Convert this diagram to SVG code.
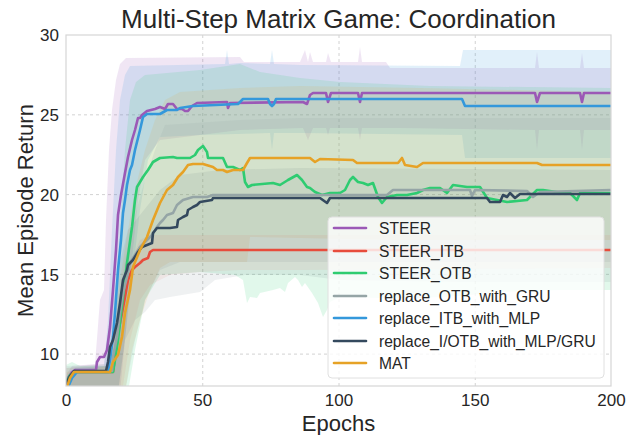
<svg xmlns="http://www.w3.org/2000/svg" width="628" height="435" viewBox="0 0 628 435">
  <style>
    text { font-family: "Liberation Sans", Arial, sans-serif; fill: #262626; }
    .title { font-size: 26px; text-anchor: middle; }
    .axlabel { font-size: 22px; text-anchor: middle; }
    .tick { font-size: 17px; }
    .xt { text-anchor: middle; }
    .yt { text-anchor: end; }
    .grid { stroke: #d2d2d2; stroke-width: 1; stroke-dasharray: 3 3; fill: none; }
    .band { stroke: none; }
    .line { fill: none; stroke-width: 2.6; stroke-linejoin: round; stroke-linecap: round; }
    .leg { font-size: 15.6px; fill: #262626; }
    .steer { stroke: #9b59b6; }
    .itb { stroke: #e74c3c; }
    .otb { stroke: #2ecc71; }
    .gru { stroke: #95a5a6; }
    .mlp { stroke: #3498db; }
    .iotb { stroke: #34495e; }
    .mat { stroke: #e6a226; }
  </style>
  <defs>
    <clipPath id="plotClip">
      <rect x="66" y="35" width="545" height="351"/>
    </clipPath>
  </defs>

  <rect x="0" y="0" width="628" height="435" fill="#ffffff"/>

  <!-- grid -->
  <g id="grid">
    <line class="grid" x1="202.75" y1="35" x2="202.75" y2="386"/>
    <line class="grid" x1="339" y1="35" x2="339" y2="386"/>
    <line class="grid" x1="475.25" y1="35" x2="475.25" y2="386"/>
    <line class="grid" x1="66" y1="354.1" x2="611" y2="354.1"/>
    <line class="grid" x1="66" y1="274.35" x2="611" y2="274.35"/>
    <line class="grid" x1="66" y1="194.6" x2="611" y2="194.6"/>
    <line class="grid" x1="66" y1="114.85" x2="611" y2="114.85"/>
  </g>

  <!-- shaded spread bands -->
  <g id="bands" clip-path="url(#plotClip)">
    <polygon class="band" fill="#9b59b6" fill-opacity="0.15" points="66,375 72,366 95,364 100,300 104,290 106,220 109,150 112,110 116,80 120,64 126,58 240,57 244,62 300,62 305,50 308,62 310,52 313,62 326,62 328,53 331,62 358,62 360,47 362,62 386,62 390,68 535,68 537,52 539,68 580,68 582,53 584,68 611,68 611,130 584,130 582,150 580,130 539,130 537,150 535,130 400,128 362,128 360,140 358,128 330,128 328,135 326,128 313,128 308,140 303,128 240,130 200,135 160,140 145,160 138,200 132,260 126,330 120,392 66,392"/>
    <polygon class="band" fill="#3498db" fill-opacity="0.15" points="66,378 75,368 104,366 108,320 112,230 116,150 120,100 125,75 130,66 225,64 227,50 229,64 240,63 270,64 272,50 274,64 300,65 460,66 463,50 611,50 611,158 465,158 462,135 300,133 274,133 272,150 270,133 200,135 160,137 148,160 140,210 133,270 126,330 118,392 66,392"/>
    <polygon class="band" fill="#2ecc71" fill-opacity="0.14" points="66,365 72,362 80,366 112,366 116,320 120,230 125,150 130,100 136,82 145,75 200,70 240,64 260,72 300,78 340,82 430,86 611,88 611,290 560,290 500,292 460,296 420,298 380,298 340,297 330,302 327,310 323,317 318,303 312,293 305,283 302,287 298,280 295,277 288,283 285,292 280,288 273,290 260,293 257,298 250,297 247,303 243,280 235,275 200,272 160,275 145,300 135,350 128,392 66,392"/>
    <polygon class="band" fill="#e6a226" fill-opacity="0.12" points="66,372 110,366 114,330 120,280 128,230 135,190 145,150 155,120 165,100 180,92 240,88 300,86 420,88 611,92 611,240 400,240 300,238 250,237 247,262 200,262 170,262 160,268 150,290 140,320 132,350 125,392 66,392"/>
    <polygon class="band" fill="#95a5a6" fill-opacity="0.16" points="66,366 112,364 118,310 125,260 135,215 145,180 155,150 165,125 240,120 300,118 611,118 611,262 400,262 300,262 240,262 180,262 160,270 145,300 135,340 125,392 66,392"/>
    <polygon class="band" fill="#34495e" fill-opacity="0.08" points="66,368 104,364 110,320 118,270 128,230 140,215 160,190 180,175 220,170 300,168 611,170 611,282 460,282 340,280 300,275 245,275 215,280 200,292 170,297 155,300 145,312 135,320 125,340 118,392 66,392"/>
    <polygon class="band" fill="#e74c3c" fill-opacity="0.07" points="66,368 110,366 115,330 122,290 130,262 140,240 150,235 611,235 611,268 300,270 240,270 200,272 170,275 150,285 140,300 130,340 122,392 66,392"/>
  </g>

  <!-- mean curves -->
  <g id="curves" clip-path="url(#plotClip)">
    <g id="series-steer">
      <polyline class="line steer" points="66,386 68,378 72,372 75,370 96,370 97,362 100,357 104,357 107,350 110,327 113,290 116,250 118,215 121,195 125,173 128,157 132,140 135,130 138,118 140,118 142,115 147,111 155,109 160,107 165,109 168,104 173,104 177,109 182,109 185,111 188,111 192,106 197,103 227,102 228,108 230,103 303,102 307,104 310,95 313,93 326,93 328,102 331,93 358,93 360,102 362,93 535,93 537,102 540,93 580,93 582,102 584,93 611,93"/>
    </g>
    <g id="series-steer-itb">
      <polyline class="line itb" points="66,388 72,376 76,372 113,372 115,357 118,333 122,313 125,297 128,280 132,270 135,267 140,263 143,260 148,258 150,252 153,250 611,250"/>
    </g>
    <g id="series-steer-otb">
      <polyline class="line otb" points="66,383 70,375 75,372 113,372 115,360 118,340 123,297 127,263 132,227 135,200 137,187 140,182 143,177 148,170 153,162 160,158 173,157 177,158 190,158 195,155 198,150 203,146 207,152 208,158 223,158 227,167 233,167 240,170 243,168 245,182 248,187 252,185 273,183 280,185 288,180 297,175 302,180 307,187 310,188 315,192 322,195 330,193 340,193 345,190 350,180 353,177 358,182 363,183 368,185 373,183 378,197 382,203 387,197 397,195 407,195 417,193 423,190 430,188 440,188 447,193 453,185 467,187 480,187 487,198 507,202 527,200 537,190 543,190 563,193 570,193 577,200 580,193 611,193"/>
    </g>
    <g id="series-gru">
      <polyline class="line gru" points="66,386 72,374 76,371 112,371 113,357 117,337 120,313 123,293 127,277 130,263 135,255 140,247 145,242 152,235 157,227 160,223 163,220 167,215 173,213 177,205 183,200 193,197 207,197 213,195 387,195 393,190 470,190 472,196 475,190 527,191 533,197 540,192 611,190"/>
    </g>
    <g id="series-mlp">
      <polyline class="line mlp" points="66,392 72,378 77,372 108,372 110,360 113,337 115,313 118,270 121,240 123,213 125,200 127,185 130,170 132,165 135,150 140,130 143,117 147,114 160,114 167,110 177,110 180,108 193,106 238,104 243,99 268,99 270,104 272,106 274,104 276,99 462,99 465,106 611,106"/>
    </g>
    <g id="series-iotb">
      <polyline class="line iotb" points="66,384 70,376 74,371 106,371 108,362 110,347 113,340 117,323 120,303 123,280 127,270 128,265 133,260 138,252 142,247 147,245 152,243 153,233 157,228 170,228 177,227 178,220 183,217 187,215 188,210 193,207 197,205 200,202 212,200 213,198 320,198 327,203 330,198 487,198 490,202 500,202 503,195 507,197 510,193 515,198 520,194 611,194"/>
    </g>
    <g id="series-mat">
      <polyline class="line mat" points="66,390 70,378 74,372 110,372 113,362 118,355 122,337 125,313 130,290 133,267 140,250 147,237 153,220 160,203 167,190 173,185 178,177 183,172 188,165 193,164 203,164 213,167 217,170 223,170 227,172 233,170 243,170 247,163 250,158 310,158 315,162 320,159 353,160 357,163 398,163 402,158 405,165 417,167 423,163 537,163 542,165 611,165"/>
    </g>
  </g>

  <!-- axes frame -->
  <rect x="66" y="35" width="545" height="351" fill="none" stroke="#d6d6d6" stroke-width="1.2"/>

  <!-- tick labels -->
  <g id="xticks">
    <text class="tick xt" x="66.5" y="406">0</text>
    <text class="tick xt" x="202.75" y="406">50</text>
    <text class="tick xt" x="339" y="406">100</text>
    <text class="tick xt" x="475.25" y="406">150</text>
    <text class="tick xt" x="611.5" y="406">200</text>
  </g>
  <g id="yticks">
    <text class="tick yt" x="59" y="360.2">10</text>
    <text class="tick yt" x="59" y="280.5">15</text>
    <text class="tick yt" x="59" y="200.7">20</text>
    <text class="tick yt" x="59" y="121">25</text>
    <text class="tick yt" x="59" y="41.2">30</text>
  </g>

  <!-- titles -->
  <text class="title" x="338.5" y="28">Multi-Step Matrix Game: Coordination</text>
  <text class="axlabel" x="338.5" y="431">Epochs</text>
  <text class="axlabel" transform="translate(33,210.5) rotate(-90)" x="0" y="0">Mean Episode Return</text>

  <!-- legend -->
  <g id="legend">
    <rect x="328" y="217" width="276" height="161" rx="4" fill="#ffffff" fill-opacity="0.8" stroke="#e0e0e0" stroke-width="1"/>
    <line class="line steer" x1="334" y1="228" x2="366" y2="228"/>
    <text class="leg" x="379" y="233.5">STEER</text>
    <line class="line itb" x1="334" y1="251" x2="366" y2="251"/>
    <text class="leg" x="379" y="256.5">STEER_ITB</text>
    <line class="line otb" x1="334" y1="273" x2="366" y2="273"/>
    <text class="leg" x="379" y="278.5">STEER_OTB</text>
    <line class="line gru" x1="334" y1="296" x2="366" y2="296"/>
    <text class="leg" x="379" y="301.5">replace_OTB_with_GRU</text>
    <line class="line mlp" x1="334" y1="318" x2="366" y2="318"/>
    <text class="leg" x="379" y="323.5">replace_ITB_with_MLP</text>
    <line class="line iotb" x1="334" y1="341" x2="366" y2="341"/>
    <text class="leg" x="379" y="346.5">replace_I/OTB_with_MLP/GRU</text>
    <line class="line mat" x1="334" y1="363" x2="366" y2="363"/>
    <text class="leg" x="379" y="368.5">MAT</text>
  </g>
</svg>
